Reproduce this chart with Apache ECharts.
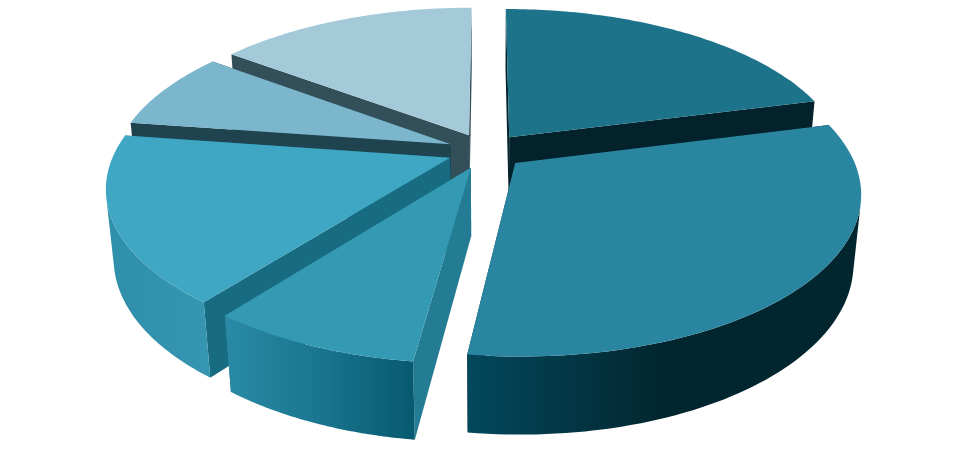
<!DOCTYPE html>
<html><head><meta charset="utf-8">
<style>html,body{margin:0;padding:0;background:#fff}#c{width:969px;height:453px}</style>
<script src="https://cdn.jsdelivr.net/npm/echarts@6/dist/echarts.min.js"></script>
</head><body><div id="c"></div>
<script>
const categories = ['A','B','C','D','E','F'];
const values = [21,31.1,8.4,16.8,7.9,14.8];
const drawOrder = [0,5,4,3,2,1];   // painter's order (back to front)
const topColors = ['#1d7389','#2a86a0','#349ab4','#3fa6c3','#7bb6cd','#a4cada'];
const cutColors = ['#03222b','#03222b','#247c94','#176c81','#20444f','#334f59'];
const wallLeft  = ['#03222b','#03485c','#2a8aa5','#2f90ab','#20444f','#334f59'];
const wallMid   = ['#03222b','#02262f','#1a7590','#3392ad','#20444f','#334f59'];
const wallRight = ['#03222b','#02262f','#06596f','#3695b0','#20444f','#334f59'];

const CX=486, CY=151, RX=335, RY=155, K=0.175, M=0.02, H=69, EXPLODE=0.115;
function project(x,y,z){
  const w=1/(1+K*y+M*z);
  return [CX+RX*x*w, CY-RY*y*w+H*z*w];
}
const total=values.reduce((a,b)=>a+b,0);
const starts=[]; values.reduce((s,v,i)=>{starts[i]=s;return s+v;},0);

function isFront(q){
  let s=0;
  for(let k=0;k<4;k++){const a=q[k],b=q[(k+1)%4];s+=a[0]*b[1]-b[0]*a[1];}
  return s<0;
}
function renderItem(params,api){
  const i=params.dataIndex, v=api.value(0);
  const a0=starts[i]/total*Math.PI*2, a1=(starts[i]+v)/total*Math.PI*2, mid=(a0+a1)/2;
  const ox=Math.sin(mid)*EXPLODE, oy=Math.cos(mid)*EXPLODE;
  const rank=drawOrder.indexOf(i)*10;
  const arc=[];const n=80;
  for(let j=0;j<=n;j++){const t=a0+(a1-a0)*j/n;arc.push([ox+Math.sin(t),oy+Math.cos(t)]);}
  const P=(p,z)=>project(p[0],p[1],z), tip=[ox,oy];
  const poly=(points,fill,z2)=>({type:'polygon',shape:{points},z2,style:{fill,stroke:null}});
  const children=[];
  const cut=(e)=>poly([P(tip,0),P(e,0),P(e,1),P(tip,1)],cutColors[i],rank+1);
  children.push(cut(arc[0]),cut(arc[n]));
  // outer wall: only the arc run that faces the viewer
  const xs=arc.map(p=>P(p,0)[0]).concat(arc.map(p=>P(p,1)[0]));
  const grad={type:'linear',global:true,x:Math.min(...xs),y:0,x2:Math.max(...xs),y2:0,colorStops:[
    {offset:0,color:wallLeft[i]},{offset:0.5,color:wallMid[i]},{offset:1,color:wallRight[i]}]};
  let run=[];
  const flush=()=>{
    if(run.length>1){
      const pts=run.map(p=>P(p,0)).concat(run.slice().reverse().map(p=>P(p,1)));
      children.push(poly(pts,grad,rank+2));
    }
    run=[];
  };
  for(let j=0;j<n;j++){
    if(isFront([P(arc[j],0),P(arc[j+1],0),P(arc[j+1],1),P(arc[j],1)])){
      if(!run.length) run.push(arc[j]);
      run.push(arc[j+1]);
    } else flush();
  }
  flush();
  children.push(poly([P(tip,0)].concat(arc.map(p=>P(p,0))),topColors[i],rank+3));
  return {type:'group',children};
}
const chart=echarts.init(document.getElementById('c'),null,{renderer:'canvas'});
chart.setOption({
  animation:false,
  backgroundColor:'#fff',
  series:[{type:'custom',coordinateSystem:'none',renderItem,
    data:values.map((v,i)=>({name:categories[i],value:[v]}))}]
});
</script></body></html>
